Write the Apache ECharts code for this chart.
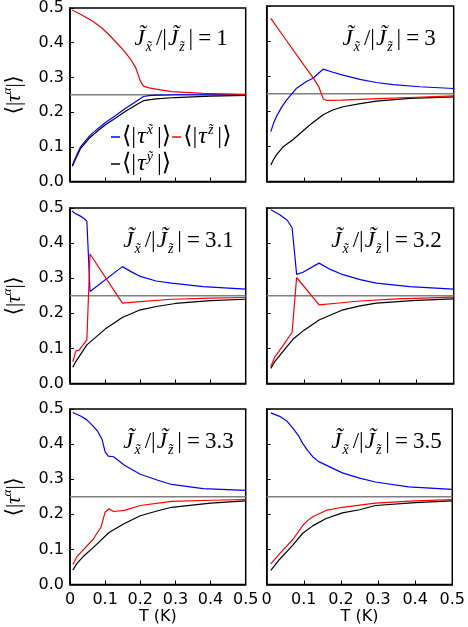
<!DOCTYPE html>
<html>
<head>
<meta charset="utf-8">
<script src="https://cdn.jsdelivr.net/npm/echarts@6/dist/echarts.min.js"></script>
<style>
  html, body { margin: 0; padding: 0; background: #fff; }
  #chart { width: 468px; height: 627px; }
</style>
</head>
<body>
<div id="chart"></div>
<script>
// ratio Jx/|Jz| of each panel, row by row
var ratios = ['1', '3', '3.1', '3.2', '3.3', '3.5'];
var xTicks = [0, 0.1, 0.2, 0.3, 0.4, 0.5];
var quarterLine = [[0, 0.25], [0.5, 0.25]];

// [T (K), <|tau|>]
var j1_x = [[0.007,0.047],[0.012,0.06],[0.017,0.071],[0.03,0.1],[0.057,0.133],[0.08,0.153],[0.102,0.171],[0.13,0.19],[0.155,0.209],[0.19,0.232],[0.209,0.245],[0.23,0.248],[0.26,0.249],[0.3,0.25],[0.5,0.25]];
var j1_y = [[0.007,0.044],[0.012,0.056],[0.017,0.067],[0.03,0.095],[0.057,0.127],[0.08,0.147],[0.102,0.164],[0.13,0.183],[0.155,0.2],[0.19,0.222],[0.209,0.233],[0.245,0.238],[0.3,0.242],[0.4,0.246],[0.5,0.248]];
var j1_z = [[0.006,0.494],[0.03,0.482],[0.066,0.461],[0.09,0.443],[0.111,0.423],[0.135,0.397],[0.155,0.375],[0.172,0.353],[0.187,0.328],[0.195,0.305],[0.2,0.29],[0.209,0.275],[0.225,0.27],[0.245,0.266],[0.289,0.259],[0.379,0.254],[0.5,0.251]];

var j3_x = [[0.011,0.142],[0.018,0.165],[0.026,0.185],[0.04,0.212],[0.053,0.232],[0.08,0.266],[0.106,0.285],[0.124,0.294],[0.14,0.31],[0.151,0.32],[0.175,0.312],[0.204,0.303],[0.249,0.291],[0.293,0.282],[0.338,0.276],[0.409,0.27],[0.5,0.265]];
var j3_y = [[0.011,0.047],[0.018,0.062],[0.026,0.076],[0.045,0.1],[0.07,0.119],[0.115,0.161],[0.151,0.19],[0.175,0.203],[0.204,0.213],[0.25,0.222],[0.293,0.229],[0.382,0.237],[0.5,0.241]];
var j3_z = [[0.011,0.465],[0.05,0.406],[0.1,0.331],[0.124,0.296],[0.14,0.268],[0.151,0.236],[0.16,0.231],[0.2,0.232],[0.3,0.236],[0.4,0.24],[0.5,0.244]];

var j31_x = [[0.006,0.492],[0.013,0.485],[0.017,0.481],[0.026,0.479],[0.04,0.47],[0.048,0.462],[0.057,0.262],[0.149,0.333],[0.175,0.318],[0.2,0.305],[0.245,0.292],[0.289,0.286],[0.379,0.276],[0.5,0.269]];
var j31_y = [[0.008,0.046],[0.015,0.06],[0.025,0.075],[0.048,0.11],[0.1,0.155],[0.149,0.188],[0.2,0.21],[0.25,0.22],[0.3,0.228],[0.4,0.236],[0.5,0.24]];
var j31_z = [[0.008,0.062],[0.017,0.093],[0.026,0.095],[0.048,0.124],[0.057,0.369],[0.149,0.229],[0.2,0.233],[0.289,0.24],[0.4,0.243],[0.5,0.245]];

var j32_x = [[0.011,0.495],[0.035,0.481],[0.055,0.465],[0.068,0.443],[0.08,0.311],[0.097,0.317],[0.14,0.343],[0.17,0.325],[0.204,0.31],[0.25,0.296],[0.293,0.286],[0.382,0.276],[0.5,0.269]];
var j32_y = [[0.011,0.043],[0.02,0.06],[0.035,0.08],[0.07,0.126],[0.1,0.152],[0.14,0.181],[0.204,0.21],[0.25,0.221],[0.293,0.229],[0.4,0.237],[0.5,0.241]];
var j32_z = [[0.011,0.048],[0.022,0.076],[0.045,0.11],[0.068,0.146],[0.08,0.302],[0.14,0.224],[0.2,0.23],[0.249,0.235],[0.35,0.241],[0.5,0.246]];

var j33_x = [[0.008,0.49],[0.03,0.48],[0.048,0.469],[0.065,0.452],[0.079,0.436],[0.091,0.414],[0.1,0.378],[0.109,0.366],[0.124,0.364],[0.155,0.34],[0.2,0.314],[0.25,0.297],[0.289,0.285],[0.379,0.273],[0.5,0.268]];
var j33_y = [[0.008,0.041],[0.02,0.06],[0.04,0.082],[0.066,0.105],[0.111,0.148],[0.155,0.174],[0.2,0.196],[0.25,0.21],[0.289,0.22],[0.4,0.232],[0.5,0.238]];
var j33_z = [[0.008,0.057],[0.021,0.081],[0.066,0.129],[0.088,0.163],[0.1,0.206],[0.111,0.216],[0.124,0.208],[0.155,0.211],[0.2,0.225],[0.289,0.237],[0.4,0.24],[0.5,0.242]];

var j35_x = [[0.011,0.489],[0.035,0.479],[0.055,0.465],[0.071,0.445],[0.085,0.425],[0.097,0.402],[0.11,0.382],[0.124,0.364],[0.14,0.35],[0.16,0.34],[0.204,0.318],[0.25,0.303],[0.293,0.292],[0.382,0.278],[0.5,0.271]];
var j35_y = [[0.011,0.04],[0.035,0.072],[0.071,0.113],[0.097,0.146],[0.124,0.167],[0.16,0.188],[0.204,0.204],[0.25,0.213],[0.293,0.225],[0.4,0.233],[0.5,0.238]];
var j35_z = [[0.011,0.059],[0.035,0.088],[0.071,0.129],[0.097,0.168],[0.11,0.182],[0.124,0.193],[0.16,0.211],[0.204,0.22],[0.293,0.232],[0.4,0.238],[0.5,0.242]];

var panels = [
  { x: j1_x, y: j1_y, z: j1_z },
  { x: j3_x, y: j3_y, z: j3_z },
  { x: j31_x, y: j31_y, z: j31_z },
  { x: j32_x, y: j32_y, z: j32_z },
  { x: j33_x, y: j33_y, z: j33_z },
  { x: j35_x, y: j35_y, z: j35_z }
];

var lefts = [58.7, 266.7];
var tops = [6, 208, 409];
var W = 187, H = 175.5;

var serif = 'Liberation Serif, DejaVu Serif, serif';
var sans = 'DejaVu Sans, sans-serif';

var axisRich = {
  b: { fontFamily: serif, fontSize: 21, color: '#000', lineHeight: 26, fontWeight: 'normal' },
  t: { fontFamily: serif, fontStyle: 'italic', fontSize: 21, color: '#000', lineHeight: 26, fontWeight: 'normal' },
  p: { fontFamily: serif, fontStyle: 'italic', fontSize: 13, color: '#000', lineHeight: 13, verticalAlign: 'top', fontWeight: 'normal' }
};
var legendRich = {
  b: { fontFamily: serif, fontSize: 24, color: '#000', lineHeight: 28, padding: [0, 1, 0, 1] },
  t: { fontFamily: serif, fontStyle: 'italic', fontSize: 24, color: '#000', lineHeight: 28 },
  p: { fontFamily: serif, fontStyle: 'italic', fontSize: 14, color: '#000', lineHeight: 14, verticalAlign: 'top', padding: [0, 3, 0, 1] }
};

var grids = [], xAxes = [], yAxes = [], series = [], titles = [];

panels.forEach(function(p, i) {
  var col = i % 2, row = Math.floor(i / 2);
  grids.push({
    left: lefts[col], top: tops[row], width: W, height: H,
    show: true, borderColor: '#000', borderWidth: 1.5, backgroundColor: 'transparent'
  });
  xAxes.push({
    gridIndex: i, type: 'value', min: 0, max: 0.5, interval: 0.1,
    axisLine: { lineStyle: { color: '#000', width: 1.5 } },
    axisTick: { inside: true, length: 4, lineStyle: { color: '#000', width: 1 } },
    splitLine: { show: false },
    axisLabel: {
      show: row === 2, color: '#000', fontFamily: sans, fontSize: 16, margin: 7,
      formatter: function(v) { return v === 0 ? '0' : v.toFixed(1); }
    },
    name: row === 2 ? 'T (K)' : '',
    nameLocation: 'middle', nameGap: 21,
    nameTextStyle: { color: '#000', fontFamily: sans, fontSize: 16 }
  });
  yAxes.push({
    gridIndex: i, type: 'value', min: 0, max: 0.5, interval: 0.1,
    axisLine: { lineStyle: { color: '#000', width: 1.5 } },
    axisTick: { inside: true, length: 4, lineStyle: { color: '#000', width: 1 } },
    splitLine: { show: false },
    axisLabel: {
      show: col === 0, color: '#000', fontFamily: sans, fontSize: 16, margin: 6,
      formatter: function(v) { return v.toFixed(1); }
    },
    name: col === 0 ? '{b|\u27E8|}{t|\u03C4}{p|\u03B1}{b||\u27E9}' : '',
    nameLocation: 'middle', nameGap: 43, nameRotate: 90,
    nameTextStyle: { rich: axisRich }
  });

  series.push({
    type: 'line', xAxisIndex: i, yAxisIndex: i, data: quarterLine,
    symbol: 'none', silent: true, lineStyle: { color: '#808080', width: 1.5 }
  });
  series.push({
    name: 'y', type: 'line', xAxisIndex: i, yAxisIndex: i, data: p.y,
    symbol: 'none', color: '#000', lineStyle: { color: '#000', width: 1.2 }
  });
  series.push({
    name: 'x', type: 'line', xAxisIndex: i, yAxisIndex: i, data: p.x,
    symbol: 'none', color: '#0000ff', lineStyle: { color: '#0000ff', width: 1.2 }
  });
  series.push({
    name: 'z', type: 'line', xAxisIndex: i, yAxisIndex: i, data: p.z,
    symbol: 'none', color: '#ff0000', lineStyle: { color: '#ff0000', width: 1.2 }
  });

  var rightEdge = lefts[col] + W - (i < 2 ? 17 : 11);
  titles.push({
    text: '{i|J\u0303}{s|x\u0303}{n|/|}{i|J\u0303}{s|z\u0303}{n||}{e|=}{n|' + ratios[i] + '}',
    right: 468 - rightEdge, top: tops[row] + 18, padding: 0,
    textStyle: {
      fontWeight: 'normal',
      rich: {
        i: { fontFamily: serif, fontStyle: 'italic', fontWeight: 'normal', fontSize: 23, color: '#000', lineHeight: 30, padding: [0, 1, 0, 0] },
        s: { fontFamily: serif, fontStyle: 'italic', fontWeight: 'normal', fontSize: 14, color: '#000', lineHeight: 14, verticalAlign: 'bottom', padding: [0, 3, 0, 0] },
        n: { fontFamily: serif, fontWeight: 'normal', fontSize: 23, color: '#000', lineHeight: 30, padding: [0, 1, 0, 1] },
        e: { fontFamily: serif, fontWeight: 'normal', fontSize: 23, color: '#000', lineHeight: 30, padding: [0, 4, 0, 4] }
      }
    }
  });
});

var legendNames = {
  x: '{b|\u27E8|}{t|\u03C4}{p|x\u0303}{b||\u27E9}',
  y: '{b|\u27E8|}{t|\u03C4}{p|y\u0303}{b||\u27E9}',
  z: '{b|\u27E8|}{t|\u03C4}{p|z\u0303}{b||\u27E9}'
};
function legendFmt(name) { return legendNames[name]; }

var chart = echarts.init(document.getElementById('chart'), null, { renderer: 'canvas' });
chart.setOption({
  animation: false,
  backgroundColor: '#fff',
  title: titles,
  legend: [{
    data: ['x', 'z'], left: 111, top: 123, padding: 0, itemGap: 0,
    icon: 'rect', itemWidth: 9, itemHeight: 1.5,
    formatter: legendFmt, textStyle: { padding: [0, 0, 0, -4], rich: legendRich }
  }, {
    data: ['y'], left: 111, top: 150, padding: 0,
    icon: 'rect', itemWidth: 9, itemHeight: 1.5,
    formatter: legendFmt, textStyle: { padding: [0, 0, 0, -4], rich: legendRich }
  }],
  grid: grids,
  xAxis: xAxes,
  yAxis: yAxes,
  series: series
});
</script>
</body>
</html>
